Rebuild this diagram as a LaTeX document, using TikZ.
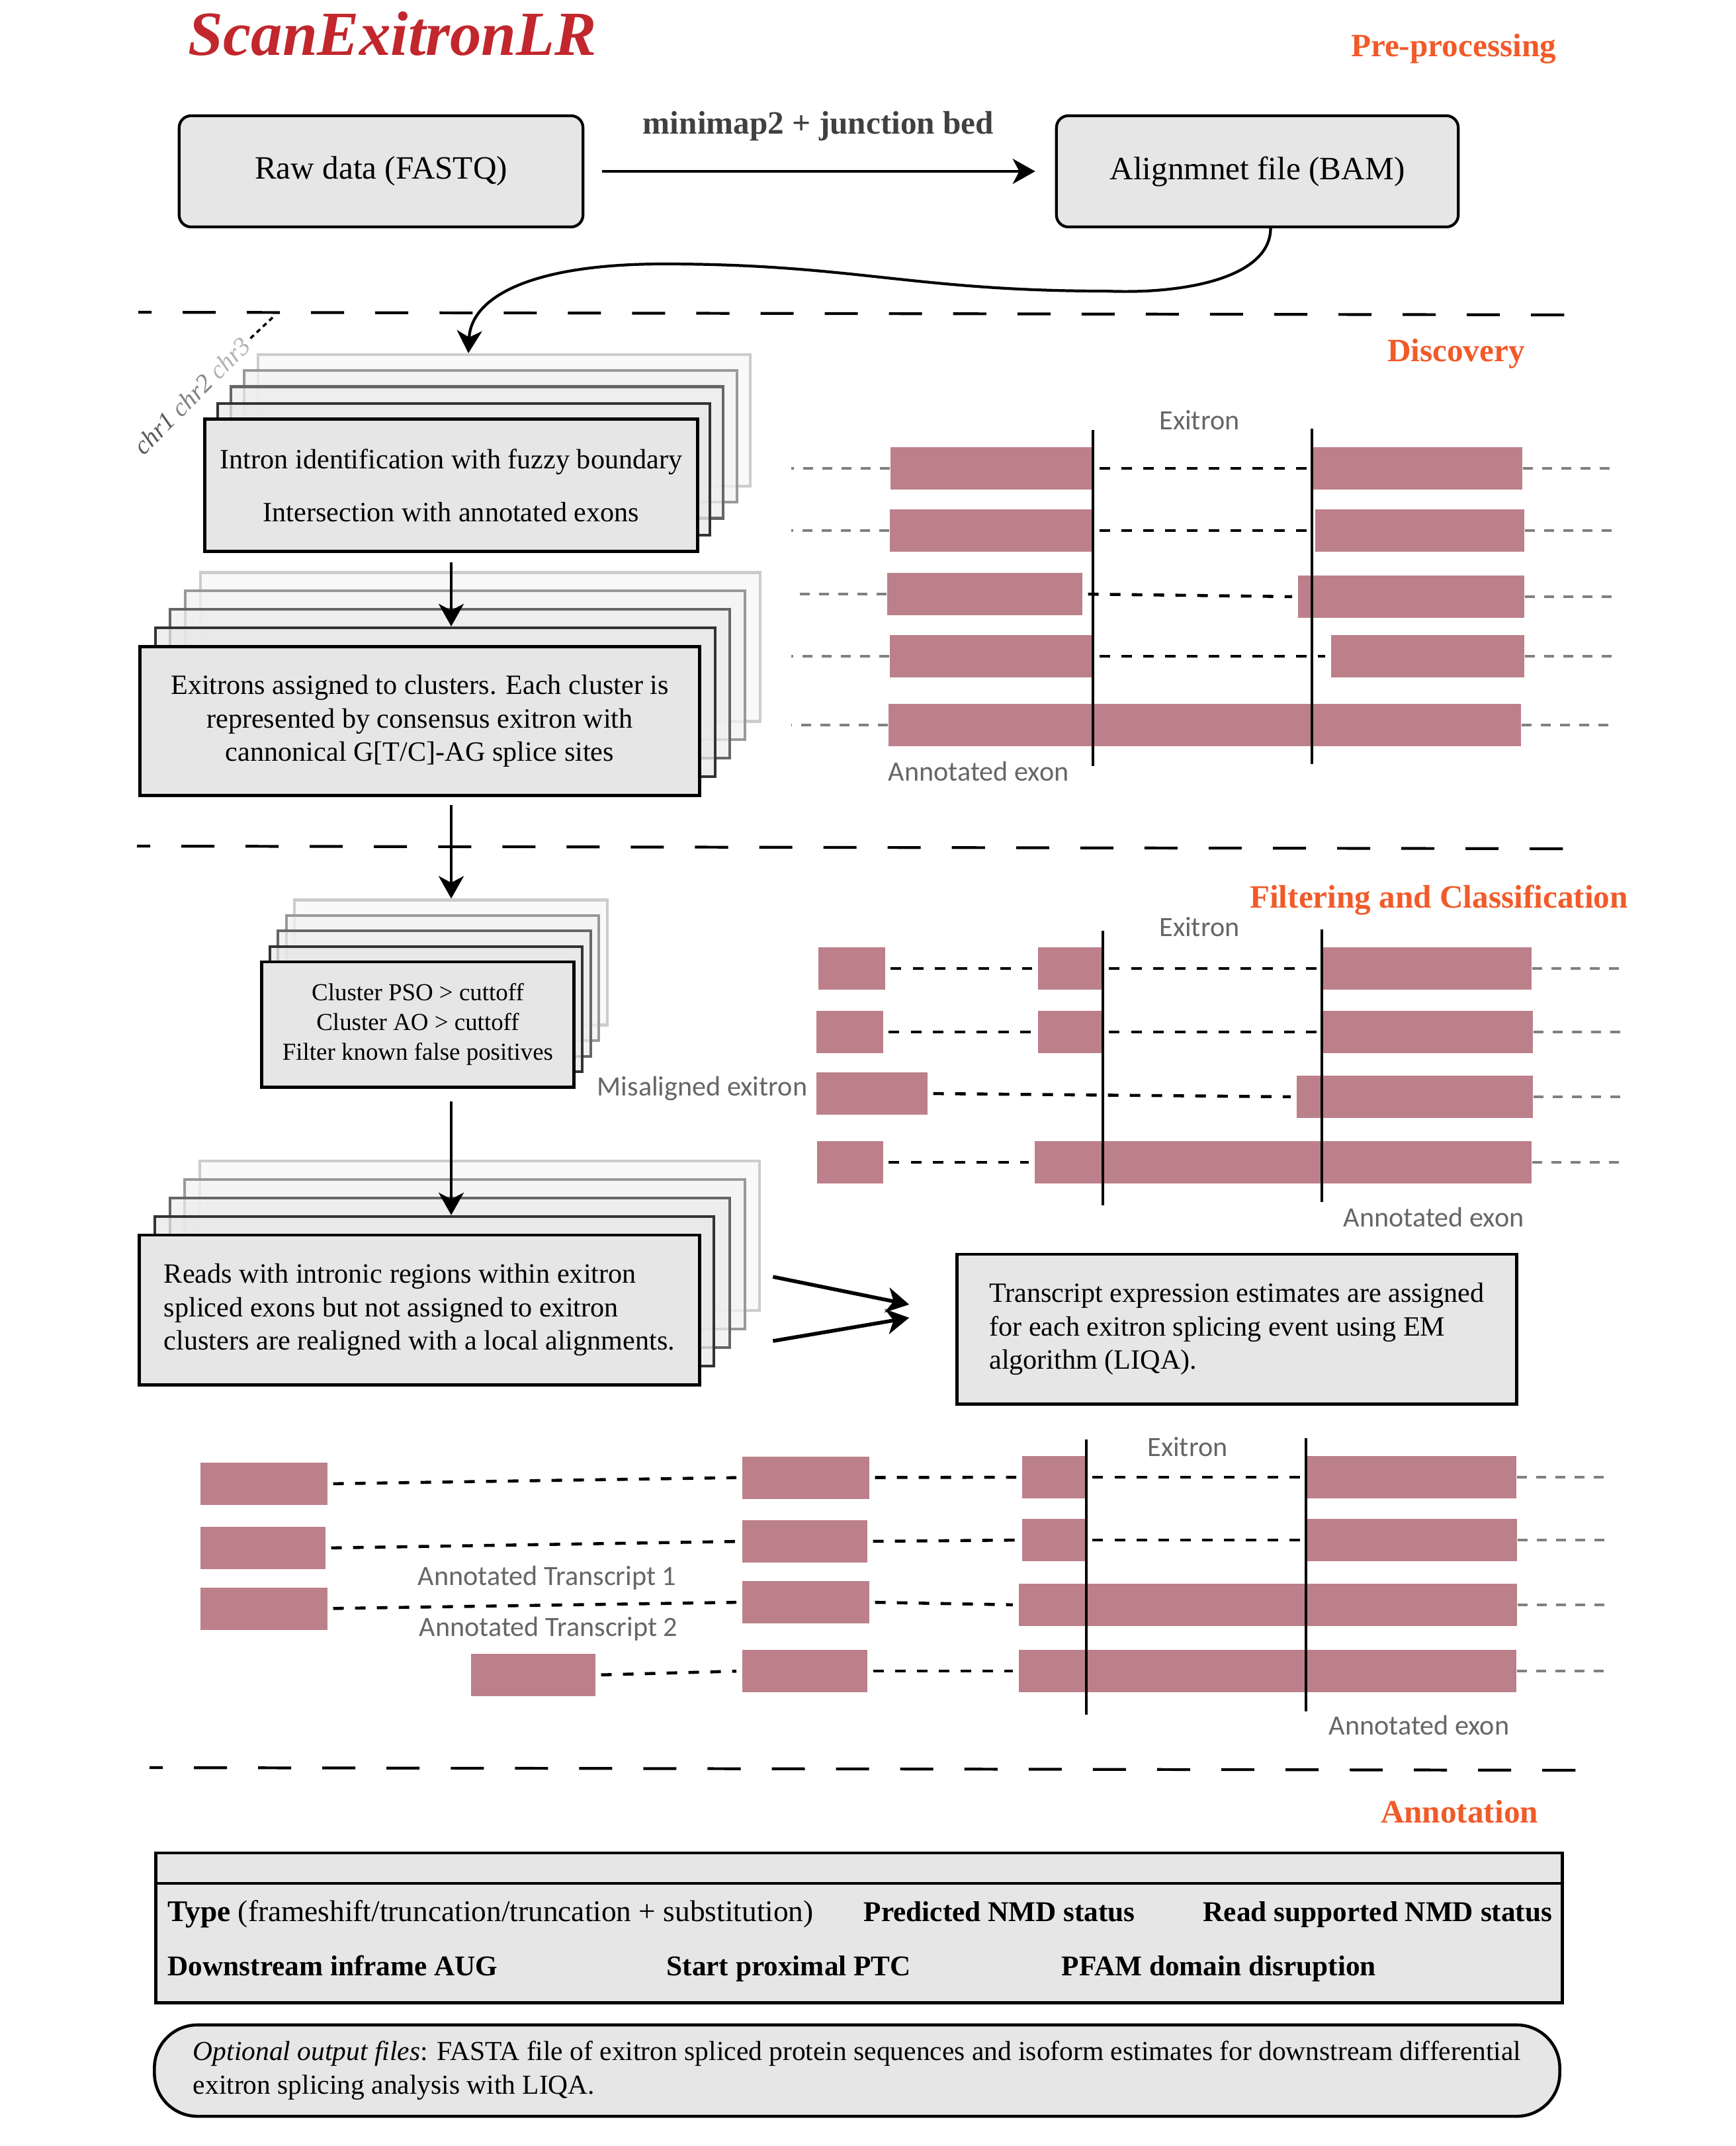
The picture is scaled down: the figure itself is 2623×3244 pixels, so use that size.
\documentclass[tikz,border=0pt]{standalone}
\usepackage{fontspec}
\setmainfont{Liberation Serif}
\newfontfamily\labelfont{Carlito}
\usetikzlibrary{arrows.meta}

\definecolor{exonpink}{RGB}{188,128,138}
\definecolor{boxgray}{HTML}{E6E6E6}
\definecolor{stageorange}{HTML}{F15A29}
\definecolor{titlered}{HTML}{C1272D}
\definecolor{labelgray}{HTML}{666666}

\newcommand{\fsmain}{\fontsize{12}{14.4}\selectfont}
\newcommand{\fsbig}{\fontsize{14}{17}\selectfont}
\newcommand{\fssmall}{\fontsize{10.5}{12.7}\selectfont}

\tikzset{
  flow/.style={-{Stealth[length=0.34cm,width=0.38cm,inset=0.1cm]}, line width=1.2pt},
  inbox/.style={draw=black, line width=1.2pt, fill=boxgray, rounded corners=0.18cm, font=\fsbig},
  frontbox/.style={draw=black, line width=1.4pt, fill=boxgray, font=\fsmain, align=center, inner sep=0pt},
  layer/.style={line width=1.2pt, inner sep=0pt, fill opacity=0.75},
  layertwo/.style={layer, draw=black!80, fill=black!9},
  layerthree/.style={layer, draw=black!60, fill=black!7},
  layerfour/.style={layer, draw=black!40, fill=black!5},
  layerfive/.style={layer, draw=black!20, fill=black!3},
  exon/.style={fill=exonpink, inner sep=0pt, minimum height=0.64cm, anchor=west},
  tail/.style={draw=gray, line width=1.3pt, dash pattern=on 0.15cm off 0.14cm},
  intronline/.style={line width=1.3pt, dash pattern=on 0.16cm off 0.17cm, shorten <=0.08cm, shorten >=0.08cm},
  splitline/.style={line width=0.9pt},
  divider/.style={line width=1.2pt, dash pattern=on 0.5cm off 0.47cm, dash phase=0.3cm},
  tag/.style={font=\labelfont\fontsize{12}{14}\selectfont, text=labelgray, inner sep=0pt},
  stage/.style={font=\bfseries\fsbig, text=stageorange, inner sep=0pt, anchor=base},
  tabletext/.style={font=\bfseries\fontsize{12.3}{14.8}\selectfont, inner sep=0pt, anchor=base west}
}

\begin{document}
\begin{tikzpicture}[x=0.01cm, y=-0.01cm]
    \useasboundingbox (0,0) rectangle (2623,3244);

    % title and stages
    \node[font=\bfseries\itshape\fontsize{27}{32}\selectfont, text=titlered, anchor=base west, inner sep=0pt] (title) at (284,83) {ScanExitronLR};
    \node[stage] (prep) at (2197,85) {Pre-processing};
    \node[stage] (discovery) at (2201,546) {Discovery};
    \node[stage] (filtering) at (2175,1372) {Filtering and Classification};
    \node[stage] (annotation) at (2206,2755) {Annotation};

    \draw[divider] (209,472) -- (2375,476);
    \draw[divider] (207,1279) -- (2379,1283);
    \draw[divider] (226,2672) -- (2392,2676);

    % pre-processing
    \node[inbox, minimum width=6.10cm, minimum height=1.68cm] (raw) at (576,259) {Raw data (FASTQ)};
    \node[inbox, minimum width=6.07cm, minimum height=1.68cm] (bam) at (1900.5,259) {Alignmnet file (BAM)};
    \draw[flow, shorten <=0.27cm, shorten >=0.30cm] (raw) -- (bam);
    \node[font=\bfseries\fsbig, text=black!75, anchor=base, inner sep=0pt] (mapper) at (1237,202) {minimap2 + junction bed};

    % discovery stack
    \node[layerfive, minimum width=7.44cm, minimum height=1.99cm] (intronE) at (762,635.5) {};
    \node[layerfour, minimum width=7.44cm, minimum height=1.99cm] (intronD) at (741.5,659.5) {};
    \node[layerthree, minimum width=7.44cm, minimum height=1.99cm] (intronC) at (721,684) {};
    \node[layertwo, minimum width=7.44cm, minimum height=1.99cm] (intronB) at (701,709.5) {};
    \node[frontbox, minimum width=7.44cm, minimum height=1.99cm] (intron) at (682,733.5) {Intron identification with fuzzy boundary\\[8.3pt]Intersection with annotated exons};

    \draw[flow] ([xshift=0.2cm]bam.south) .. controls (1920,420) and (1790,445) .. (1672,440) .. controls (1380,440) and (1290,399) .. (1003,399) .. controls (800,399) and (712,450) .. ([xshift=-0.54cm]intronE.north);

    \node[font=\itshape\fontsize{11}{13}\selectfont, rotate=45, inner sep=0pt] (chrs) at (290,598) {\textcolor{black!65}{chr1} \textcolor{black!50}{chr2} \textcolor{black!30}{chr3}};
    \draw[line width=1pt, dash pattern=on 0.07cm off 0.06cm] (chrs.east) ++(6,-4) -- ++(35,-33);

    \node[layerfive, minimum width=8.46cm, minimum height=2.25cm] (clustersE) at (726,978) {};
    \node[layerfour, minimum width=8.46cm, minimum height=2.25cm] (clustersD) at (703,1005.5) {};
    \node[layerthree, minimum width=8.46cm, minimum height=2.25cm] (clustersC) at (680,1033.5) {};
    \node[layertwo, minimum width=8.46cm, minimum height=2.25cm] (clustersB) at (658,1061.5) {};
    \node[frontbox, minimum width=8.45cm, minimum height=2.24cm] (clusters) at (634.5,1090) {Exitrons assigned to clusters. Each cluster is\\represented by consensus exitron with\\cannonical G[T/C]-AG splice sites};

    \draw[flow, shorten <=0.14cm] (intron.south) -- (intron.south |- clustersB.north);

    % discovery reads
    \coordinate (dleft) at (1196,0);
    \coordinate (dright) at (2444,0);
    \node[exon, minimum width=3.07cm] (d1l) at (1345,708) {};
    \node[exon, minimum width=3.17cm] (d1r) at (1983,708) {};
    \node[exon, minimum width=3.08cm] (d2l) at (1344,802) {};
    \node[exon, minimum width=3.16cm] (d2r) at (1987,802) {};
    \node[exon, minimum width=2.95cm] (d3l) at (1340,898) {};
    \node[exon, minimum width=3.42cm] (d3r) at (1961,902) {};
    \node[exon, minimum width=3.08cm] (d4l) at (1344,992) {};
    \node[exon, minimum width=2.92cm] (d4r) at (2011,992) {};
    \node[exon, minimum width=9.56cm] (d5) at (1342,1096) {};
    \draw[tail] (d1l.west) -- (d1l.west -| dleft);
    \draw[tail] (d2l.west) -- (d2l.west -| dleft);
    \draw[tail] (d3l.west) -- (d3l.west -| dleft);
    \draw[tail] (d4l.west) -- (d4l.west -| dleft);
    \draw[tail] (d5.west) -- (d5.west -| dleft);
    \draw[tail] (d1r.east) -- (d1r.east -| dright);
    \draw[tail] (d2r.east) -- (d2r.east -| dright);
    \draw[tail] (d3r.east) -- (d3r.east -| dright);
    \draw[tail] (d4r.east) -- (d4r.east -| dright);
    \draw[tail] (d5.east) -- (d5.east -| dright);
    \draw[intronline] (d1l.east) -- (d1r.west);
    \draw[intronline] (d2l.east) -- (d2r.west);
    \draw[intronline] (d3l.east) -- (d3r.west);
    \draw[intronline] (d4l.east) -- (d4r.west);
    \draw[splitline] (1652,650) -- (1652,1158);
    \draw[splitline] (1983,648) -- (1983,1155);
    \node[tag] (dexitron) at (1813,635) {Exitron};
    \node[tag, anchor=west] (dexon) at (1342,1166) {Annotated exon};

    % filtering stack
    \node[layerfive, minimum width=4.73cm, minimum height=1.89cm] (filtersE) at (681.5,1455) {};
    \node[layerfour, minimum width=4.72cm, minimum height=1.89cm] (filtersD) at (669,1478.5) {};
    \node[layerthree, minimum width=4.73cm, minimum height=1.90cm] (filtersC) at (656.5,1502) {};
    \node[layertwo, minimum width=4.72cm, minimum height=1.89cm] (filtersB) at (644,1525.5) {};
    \node[frontbox, font=\fssmall, minimum width=4.71cm, minimum height=1.89cm] (filters) at (631.5,1548.5) {Cluster PSO > cuttoff\\Cluster AO > cuttoff\\Filter known false positives};

    \draw[flow, shorten <=0.12cm] (intron.south |- clusters.south) -- (intron.south |- filtersE.north);

    \coordinate (fright) at (2459,0);
    \node[exon, minimum width=1.01cm] (f1a) at (1236,1464) {};
    \node[exon, minimum width=0.99cm] (f1b) at (1568,1464) {};
    \node[exon, minimum width=3.16cm] (f1c) at (1998,1464) {};
    \node[exon, minimum width=1.01cm] (f2a) at (1233,1560) {};
    \node[exon, minimum width=0.99cm] (f2b) at (1568,1560) {};
    \node[exon, minimum width=3.18cm] (f2c) at (1998,1560) {};
    \node[exon, minimum width=1.68cm] (f3a) at (1233,1653) {};
    \node[exon, minimum width=3.57cm] (f3c) at (1959,1658) {};
    \node[exon, minimum width=1.00cm] (f4a) at (1234,1757) {};
    \node[exon, minimum width=7.51cm] (f4b) at (1563,1757) {};
    \draw[intronline] (f1a.east) -- (f1b.west);
    \draw[intronline] (f1b.east) -- (f1c.west);
    \draw[intronline] (f2a.east) -- (f2b.west);
    \draw[intronline] (f2b.east) -- (f2c.west);
    \draw[intronline] (f3a.east) -- (f3c.west);
    \draw[intronline] (f4a.east) -- (f4b.west);
    \draw[tail] (f1c.east) -- (f1c.east -| fright);
    \draw[tail] (f2c.east) -- (f2c.east -| fright);
    \draw[tail] (f3c.east) -- (f3c.east -| fright);
    \draw[tail] (f4b.east) -- (f4b.east -| fright);
    \draw[splitline] (1667,1407) -- (1667,1822);
    \draw[splitline] (1998,1405) -- (1998,1817);
    \node[tag] (fexitron) at (1813,1401) {Exitron};
    \node[tag, anchor=east] (misaligned) at (1221,1645) {Misaligned exitron};
    \node[tag, anchor=west] (fexon) at (2030,1840) {Annotated exon};

    % realignment stack
    \node[layerfive, minimum width=8.46cm, minimum height=2.26cm] (readsE) at (725,1868) {};
    \node[layerfour, minimum width=8.47cm, minimum height=2.26cm] (readsD) at (702.5,1896) {};
    \node[layerthree, minimum width=8.46cm, minimum height=2.26cm] (readsC) at (680,1924) {};
    \node[layertwo, minimum width=8.45cm, minimum height=2.26cm] (readsB) at (656.5,1952) {};
    \node[frontbox, align=left, minimum width=8.46cm, minimum height=2.26cm] (reads) at (634,1980) {Reads with intronic regions within exitron\\spliced exons but not assigned to exitron\\clusters are realigned with a local alignments.};

    \draw[flow, shorten <=0.19cm] (intron.south |- filters.south) -- (intron.south |- readsB.north);

    \node[frontbox, align=left, minimum width=8.45cm, minimum height=2.26cm] (liqa) at (1869.5,2009) {Transcript expression estimates are assigned\\for each exitron splicing event using EM\\algorithm (LIQA).};
    \draw[flow, line width=1.6pt] ([xshift=0.18cm,yshift=-0.62cm]readsE.east) -- ([xshift=-0.70cm,yshift=0.37cm]liqa.west);
    \draw[flow, line width=1.6pt] ([xshift=0.18cm,yshift=-1.59cm]readsE.east) -- ([xshift=-0.70cm,yshift=0.17cm]liqa.west);

    % transcripts
    \coordinate (tright) at (2433,0);
    \node[exon, minimum width=1.92cm] (t1a) at (302,2243) {};
    \node[exon, minimum width=1.92cm] (t1b) at (1121,2233.5) {};
    \node[exon, minimum width=0.98cm] (t1c) at (1544,2233) {};
    \node[exon, minimum width=3.17cm] (t1d) at (1974,2233) {};
    \node[exon, minimum width=1.89cm] (t2a) at (302,2340) {};
    \node[exon, minimum width=1.89cm] (t2b) at (1121,2330) {};
    \node[exon, minimum width=0.98cm] (t2c) at (1544,2328) {};
    \node[exon, minimum width=3.18cm] (t2d) at (1974,2328) {};
    \node[exon, minimum width=1.92cm] (t3a) at (302,2431.5) {};
    \node[exon, minimum width=1.92cm] (t3b) at (1121,2422) {};
    \node[exon, minimum width=7.53cm] (t3c) at (1539,2426) {};
    \node[exon, minimum width=1.88cm] (t4a) at (711,2532) {};
    \node[exon, minimum width=1.89cm] (t4b) at (1121,2526) {};
    \node[exon, minimum width=7.52cm] (t4c) at (1539,2526) {};
    \draw[intronline] (t1a.east) -- (t1b.west);
    \draw[intronline] (t1b.east) -- (t1c.west);
    \draw[intronline] (t1c.east) -- (t1d.west);
    \draw[intronline] (t2a.east) -- (t2b.west);
    \draw[intronline] (t2b.east) -- (t2c.west);
    \draw[intronline] (t2c.east) -- (t2d.west);
    \draw[intronline] (t3a.east) -- (t3b.west);
    \draw[intronline] (t3b.east) -- (t3c.west);
    \draw[intronline] (t4a.east) -- (t4b.west);
    \draw[intronline] (t4b.east) -- (t4c.west);
    \draw[tail] (t1d.east) -- (t1d.east -| tright);
    \draw[tail] (t2d.east) -- (t2d.east -| tright);
    \draw[tail] (t3c.east) -- (t3c.east -| tright);
    \draw[tail] (t4c.east) -- (t4c.east -| tright);
    \draw[splitline] (1642,2176) -- (1642,2592);
    \draw[splitline] (1974,2174) -- (1974,2587);
    \node[tag] (texitron) at (1795,2187) {Exitron};
    \node[tag] (tone) at (827,2385) {Annotated Transcript 1};
    \node[tag] (ttwo) at (829,2462) {Annotated Transcript 2};
    \node[tag] (texon) at (2145,2608) {Annotated exon};

    % annotation table
    \node[draw=black, line width=1.4pt, fill=boxgray, inner sep=0pt, minimum width=21.25cm, minimum height=2.26cm] (annot) at (1298.5,2914) {};
    \coordinate (annothead) at (0,2847);
    \draw[line width=1.4pt] (annot.west |- annothead) -- (annot.east |- annothead);
    \node[tabletext, font=\fontsize{12.9}{15.5}\selectfont] (ttype) at (253,2904) {\textbf{Type} (frameshift/truncation/truncation + substitution)};
    \node[tabletext] (tnmd) at (1305,2904) {Predicted NMD status};
    \node[tabletext] (tread) at (1818,2904) {Read supported NMD status};
    \node[tabletext] (taug) at (253,2986) {Downstream inframe AUG};
    \node[tabletext] (tptc) at (1007,2986) {Start proximal PTC};
    \node[tabletext] (tpfam) at (1604,2986) {PFAM domain disruption};

    \node[draw=black, line width=1.3pt, fill=boxgray, rounded corners=0.65cm, inner sep=0pt, align=left, font=\fontsize{11.8}{14.4}\selectfont, minimum width=21.23cm, minimum height=1.38cm] (outfiles) at (1295.5,3130) {\textit{Optional output files}: FASTA file of exitron spliced protein sequences and isoform estimates for downstream differential\\exitron splicing analysis with LIQA.};

\end{tikzpicture}
\end{document}
